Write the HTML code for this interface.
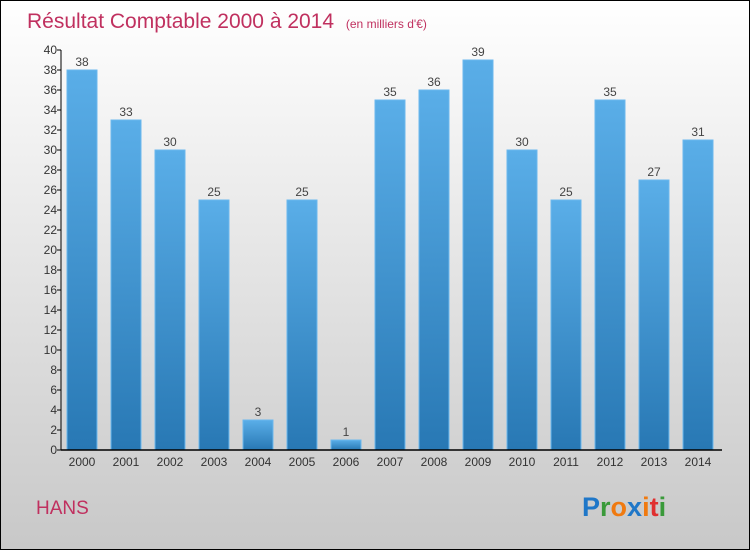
<!DOCTYPE html>
<html><head><meta charset="utf-8"><style>
html,body{margin:0;padding:0;}
body{width:750px;height:550px;overflow:hidden;font-family:"Liberation Sans",sans-serif;}
</style></head><body>
<svg width="750" height="550" xmlns="http://www.w3.org/2000/svg">
<defs>
<linearGradient id="bg" x1="0" y1="0" x2="0" y2="1"><stop offset="0" stop-color="#ffffff"/><stop offset="1" stop-color="#c8c8c8"/></linearGradient>
<linearGradient id="bar" x1="0" y1="0" x2="0" y2="1"><stop offset="0" stop-color="#5aaee8"/><stop offset="1" stop-color="#2878b4"/></linearGradient>
</defs>
<rect x="0.5" y="0.5" width="749" height="549" fill="url(#bg)" stroke="#000"/>
<text x="27" y="28" font-size="21" fill="#c0305f">Résultat Comptable 2000 à 2014 <tspan font-size="12" dx="6">(en milliers d'€)</tspan></text>
<g id="plot"></g>
<text x="36" y="514" font-size="19" fill="#c0305f">HANS</text>
<text x="582" y="516" font-size="27" font-weight="bold"><tspan fill="#1f77c8">P</tspan><tspan fill="#3a9a3a">r</tspan><tspan fill="#f07a10">o</tspan><tspan fill="#1f77c8">x</tspan><tspan fill="#f07a10">i</tspan><tspan fill="#e03030">t</tspan><tspan fill="#3a9a3a">i</tspan></text>
</svg>
<script>
const categories=["2000","2001","2002","2003","2004","2005","2006","2007","2008","2009","2010","2011","2012","2013","2014"];
const values=[38,33,30,25,3,25,1,35,36,39,30,25,35,27,31];
const yTicks=[0,2,4,6,8,10,12,14,16,18,20,22,24,26,28,30,32,34,36,38,40];
const NS="http://www.w3.org/2000/svg";
const g=document.getElementById('plot');
const x0=61,x1=722,yb=450,yt=50,yMax=40,step=44,bw=30;
const y=v=>yb-(v/yMax)*(yb-yt);
const xc=i=>82+i*step;
function mk(t,a,txt){const e=document.createElementNS(NS,t);for(const k in a)e.setAttribute(k,a[k]);if(txt!==undefined)e.textContent=txt;g.appendChild(e);return e;}
values.forEach((v,i)=>{
 const r=mk('rect',{x:xc(i)-bw/2,y:y(v),width:bw,height:yb-y(v),fill:'url(#bar)',stroke:'#6bb8ee','stroke-width':1});
 
 
 const l=mk('text',{x:xc(i),y:y(v)-4,'font-size':12,fill:'#444','text-anchor':'middle'},String(v));
 
 
 const c=mk('text',{x:xc(i),y:466,'font-size':12,fill:'#333','text-anchor':'middle'},categories[i]);
 
 
});
yTicks.forEach(t=>{
 const tk=mk('line',{x1:x0-4,x2:x0,y1:y(t),y2:y(t),stroke:'#000'});
 
 
 const tl=mk('text',{x:x0-4,y:y(t)+4,'font-size':12,fill:'#333','text-anchor':'end'},String(t));
 
 
});
const ya=mk('line',{x1:x0,x2:x0,y1:yt,y2:yb,stroke:'#000'});


const xa=mk('line',{x1:x0,x2:x1,y1:yb,y2:yb,stroke:'#000','stroke-width':1.5});


</script>
</body></html>
